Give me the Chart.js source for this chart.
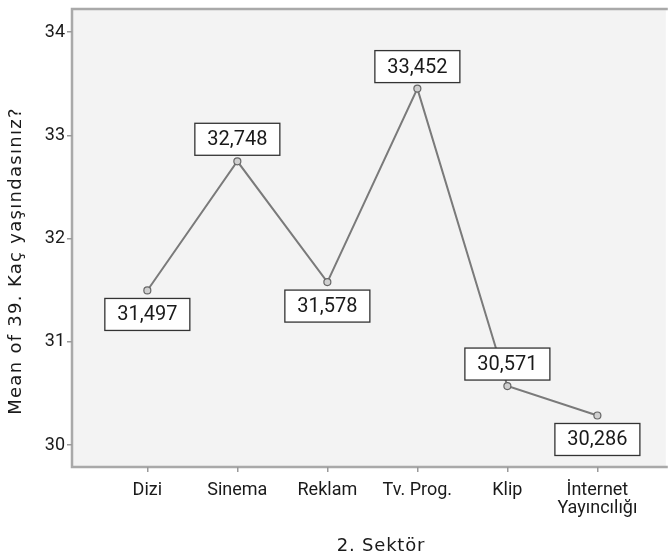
<!DOCTYPE html>
<html>
<head>
<meta charset="utf-8">
<script src="https://cdn.jsdelivr.net/npm/chart.js@4/dist/chart.umd.min.js"></script>
<style>
html,body{margin:0;padding:0;background:#fff;overflow:hidden;}
#wrap{width:671px;height:555px;}
</style>
</head>
<body>
<div id="wrap"><canvas id="c" width="671" height="555"></canvas></div>
<script>
const categories = ["Dizi", "Sinema", "Reklam", "Tv. Prog.", "Klip", ["İnternet", "Yayıncılığı"]];
const meanAge = [31.497, 32.748, 31.578, 33.452, 30.571, 30.286];
const yTicks = [30, 31, 32, 33, 34];
const xTitle = "2. Sektör";
const yTitle = "Mean of 39. Kaç yaşındasınız?";

const labelSide = [1, -1, 1, -1, -1, 1]; // 1 below, -1 above

const fontFam = "Roboto, 'DejaVu Sans', sans-serif";
const titleFam = "'DejaVu Sans', sans-serif";

const bgPlugin = {
  id: 'bg',
  beforeDraw(chart) {
    const {ctx, chartArea: a} = chart;
    ctx.save();
    ctx.fillStyle = '#f3f3f3';
    ctx.fillRect(a.left, a.top, a.right - a.left, a.bottom - a.top);
    ctx.strokeStyle = '#a9a9a9';
    ctx.lineWidth = 2.5;
    ctx.beginPath();
    ctx.moveTo(a.right + 2, a.top);
    ctx.lineTo(a.left, a.top);
    ctx.lineTo(a.left, a.bottom);
    ctx.lineTo(a.right + 2, a.bottom);
    ctx.stroke();
    ctx.restore();
  }
};

const titlePlugin = {
  id: 'axisTitles',
  afterDraw(chart) {
    const {ctx} = chart;
    ctx.save();
    ctx.fillStyle = '#1a1a1a';
    ctx.font = "18px " + titleFam;
    ctx.textAlign = 'center';
    ctx.textBaseline = 'alphabetic';
    ctx.letterSpacing = '0.8px';
    ctx.fillText(xTitle, 381, 551);
    ctx.letterSpacing = '1.3px';
    ctx.translate(21, 261);
    ctx.rotate(-Math.PI / 2);
    ctx.fillText(yTitle, 0, 0);
    ctx.restore();
  }
};

const labelPlugin = {
  id: 'valLabels',
  afterDatasetsDraw(chart) {
    const {ctx} = chart;
    const meta = chart.getDatasetMeta(0);
    ctx.save();
    ctx.font = "20px " + fontFam;
    ctx.textAlign = 'center';
    ctx.textBaseline = 'middle';
    meta.data.forEach((pt, i) => {
      const txt = meanAge[i].toFixed(3).replace('.', ',');
      const w = 85, h = 32;
      const cx = pt.x;
      const cy = labelSide[i] > 0 ? pt.y + 8 + h / 2 : pt.y - 6 - h / 2;
      ctx.fillStyle = '#ffffff';
      ctx.fillRect(cx - w / 2, cy - h / 2, w, h);
      ctx.strokeStyle = '#333';
      ctx.lineWidth = 1.3;
      ctx.strokeRect(cx - w / 2, cy - h / 2, w, h);
      ctx.fillStyle = '#1a1a1a';
      ctx.fillText(txt, cx, cy + 1);
    });
    ctx.restore();
  }
};

new Chart(document.getElementById('c'), {
  type: 'line',
  data: {
    datasets: [{
      data: meanAge.map((v, i) => ({x: i, y: v})),
      borderColor: '#7a7a7a',
      borderWidth: 2,
      pointRadius: 3.5,
      pointBackgroundColor: '#d0d0d0',
      pointBorderColor: '#666',
      pointBorderWidth: 1.2,
      tension: 0
    }]
  },
  options: {
    responsive: false,
    animation: false,
    layout: {padding: {top: 9, right: 0, left: 0, bottom: 0}},
    plugins: {legend: {display: false}, tooltip: {enabled: false}},
    scales: {
      x: {
        type: 'linear',
        min: -0.837,
        max: 5.76,
        afterBuildTicks(scale) { scale.ticks = categories.map((c, i) => ({value: i})); },
        afterFit(scale) { scale.height = 88; scale.paddingRight = 0; scale.paddingLeft = 0; },
        border: {display: false},
        grid: {drawOnChartArea: false, drawTicks: true, tickLength: 5, color: '#9a9a9a', lineWidth: 1.5},
        ticks: {
          autoSkip: false,
          maxRotation: 0,
          padding: 9,
          color: '#1a1a1a',
          font: {family: fontFam, size: 18, lineHeight: 1.0},
          callback: (v) => categories[v]
        },
        title: {display: false}
      },
      y: {
        min: 29.787,
        max: 34.223,
        afterBuildTicks(scale) { scale.ticks = yTicks.map(v => ({value: v})); },
        afterFit(scale) { scale.width = 72; scale.paddingTop = 0; scale.paddingBottom = 0; },
        border: {display: false},
        grid: {drawOnChartArea: false, drawTicks: true, tickLength: 5, color: '#9a9a9a', lineWidth: 1.5},
        ticks: {
          padding: 2,
          color: '#1a1a1a',
          font: {family: fontFam, size: 18},
          callback: (v) => String(v)
        },
        title: {display: false}
      }
    }
  },
  plugins: [bgPlugin, labelPlugin, titlePlugin]
});
</script>
</body>
</html>
